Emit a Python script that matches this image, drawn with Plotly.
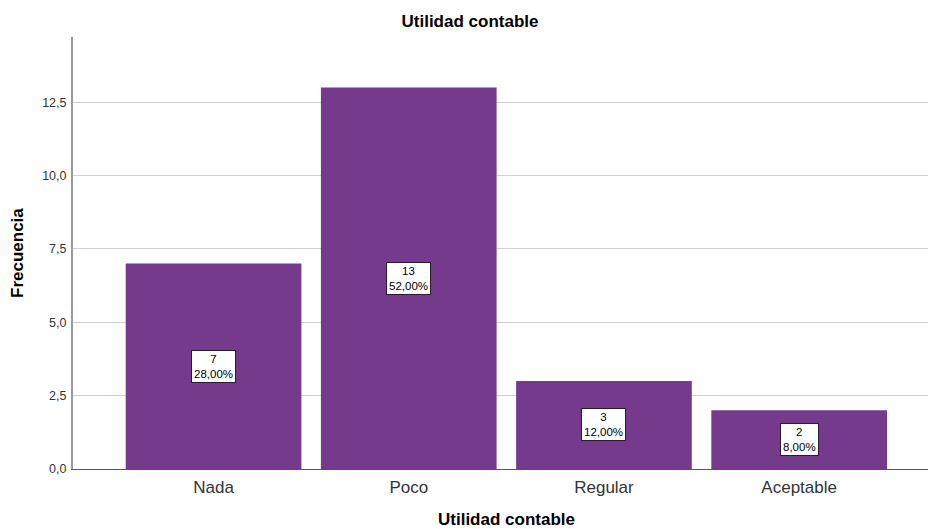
import plotly.graph_objects as go

categories = ["Nada", "Poco", "Regular", "Aceptable"]
counts = [7, 13, 3, 2]
percents = ["28,00%", "52,00%", "12,00%", "8,00%"]
y_ticks = [0, 2.5, 5, 7.5, 10, 12.5]
y_tick_labels = ["0,0", "2,5", "5,0", "7,5", "10,0", "12,5"]

bar_color = "#763A8C"
FONT = "Arial, Liberation Sans, sans-serif"

W, H = 928, 529
ML, MR, MT, MB = 73, 0, 37, 60
PW, PH = W - ML - MR, H - MT - MB


def px_x(px):
    return (px - ML) / PW


def px_y(py):
    return (H - MB - py) / PH


fig = go.Figure()
fig.add_trace(go.Bar(
    x=list(range(len(categories))),
    y=counts,
    marker=dict(color=bar_color, line=dict(width=0)),
    width=0.9,
    hoverinfo="skip",
))

for i, (c, p) in enumerate(zip(counts, percents)):
    fig.add_annotation(
        x=i, y=c / 2, xref="x", yref="y",
        text=f"{c}<br>{p}",
        showarrow=False,
        font=dict(family=FONT, size=11.5, color="#000000"),
        bgcolor="#FFFFFF",
        bordercolor="#2a1a30",
        borderwidth=1,
        borderpad=2,
        align="center",
    )

# axis titles
fig.add_annotation(
    x=px_x(507), y=px_y(519), xref="paper", yref="paper",
    text="<b>Utilidad contable</b>", showarrow=False,
    xanchor="center", yanchor="middle",
    font=dict(family=FONT, size=17, color="#000000"),
)
fig.add_annotation(
    x=px_x(17), y=px_y(253), xref="paper", yref="paper",
    text="<b>Frecuencia</b>", showarrow=False, textangle=-90,
    xanchor="center", yanchor="middle",
    font=dict(family=FONT, size=17, color="#000000"),
)

fig.update_layout(
    width=W, height=H,
    margin=dict(l=ML, r=MR, t=MT, b=MB),
    paper_bgcolor="white",
    plot_bgcolor="white",
    showlegend=False,
    font=dict(family=FONT, color="#000000"),
    title=dict(
        text="<b>Utilidad contable</b>",
        x=470 / W, xanchor="center", xref="container",
        y=1 - 21 / H, yanchor="middle", yref="container",
        font=dict(size=17, color="#000000"),
    ),
    xaxis=dict(
        range=[-0.72, 3.66],
        tickmode="array",
        tickvals=list(range(len(categories))),
        ticktext=categories,
        tickfont=dict(size=17, color="#333333"),
        ticklabelstandoff=3,
        showgrid=False,
        showline=True, linecolor="#555555", linewidth=1,
        ticks="", zeroline=False,
    ),
    yaxis=dict(
        range=[0, 14.72],
        tickmode="array",
        tickvals=y_ticks,
        ticktext=y_tick_labels,
        tickfont=dict(size=12.5, color="#333333"),
        ticklabelstandoff=2,
        showgrid=True, gridcolor="#d0d0d0", gridwidth=1,
        showline=True, linecolor="#999999", linewidth=2,
        ticks="", zeroline=False,
    ),
)

fig.write_html(
    "out.html",
    config={"displayModeBar": False},
    post_script="document.body.style.margin='0px';document.body.style.overflow='hidden';",
)
